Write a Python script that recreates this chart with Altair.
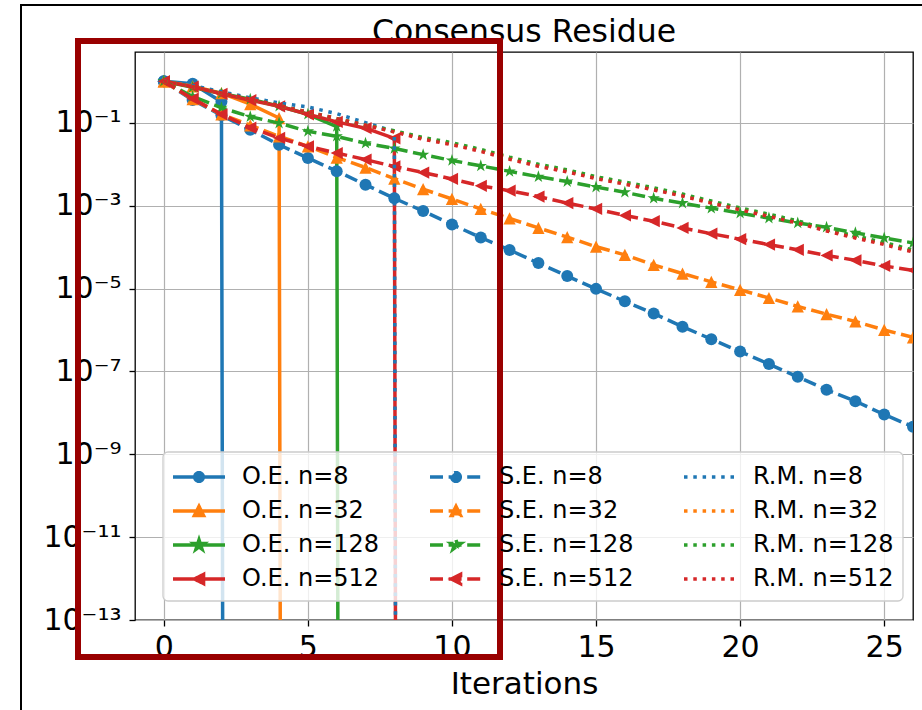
import math
import altair as alt
import pandas as pd

# ---------------- data ----------------
ITERATIONS = list(range(27))

# "0.0" = exact consensus reached (drawn as a drop off the log axis)
OE_8 = [1.0, 0.87, 0.32, 0.0]
OE_32 = [1.0, 0.76, 0.52, 0.28, 0.13, 0.0]
OE_128 = [1.0, 0.72, 0.51, 0.37, 0.25, 0.16, 0.081, 0.0]
OE_512 = [1.0, 0.74, 0.50, 0.35, 0.25, 0.16, 0.105, 0.074, 0.042, 0.0]

SE_8 = [1.0, 0.355, 0.151, 0.0676, 0.0295, 0.0141, 6.8e-3, 3.2e-3, 1.5e-3, 7.4e-4,
        3.5e-4, 1.7e-4, 8.5e-5, 4.1e-5, 2.0e-5, 9.8e-6, 4.9e-6, 2.5e-6, 1.2e-6, 6.0e-7,
        3.0e-7, 1.5e-7, 7.4e-8, 3.6e-8, 1.9e-8, 9.1e-9, 4.6e-9]
SE_32 = [1.0, 0.37, 0.16, 0.087, 0.047, 0.027, 0.0145, 8.3e-3, 4.5e-3, 2.5e-3,
         1.45e-3, 8.3e-4, 4.9e-4, 2.9e-4, 1.74e-4, 1.02e-4, 6.5e-5, 3.7e-5, 2.3e-5, 1.45e-5,
         9.3e-6, 5.9e-6, 3.7e-6, 2.4e-6, 1.6e-6, 1.0e-6, 6.6e-7]
SE_128 = [1.0, 0.43, 0.23, 0.14, 0.098, 0.062, 0.047, 0.032, 0.024, 0.017,
          0.0123, 9.1e-3, 6.7e-3, 5.0e-3, 3.8e-3, 2.8e-3, 2.1e-3, 1.5e-3, 1.15e-3, 8.7e-4,
          6.6e-4, 5.0e-4, 3.8e-4, 3.0e-4, 2.2e-4, 1.66e-4, 1.26e-4]
SE_512 = [1.0, 0.38, 0.16, 0.076, 0.043, 0.027, 0.0186, 0.0129, 8.8e-3, 6.3e-3,
          4.4e-3, 3.0e-3, 2.3e-3, 1.66e-3, 1.15e-3, 8.3e-4, 5.8e-4, 4.2e-4, 2.9e-4, 2.1e-4,
          1.55e-4, 1.15e-4, 8.6e-5, 6.3e-5, 4.8e-5, 3.5e-5, 2.75e-5]

RM_8 = [1.0, 0.79, 0.56, 0.40, 0.30, 0.24, 0.166, 0.10, 0.062, 0.0]
RM_32 = [1.0, 0.74, 0.52, 0.37, 0.26, 0.18, 0.126, 0.087, 0.062, 0.042,
         0.031, 0.0216, 0.014, 9.4e-3, 6.9e-3, 4.8e-3, 3.5e-3, 2.5e-3, 1.8e-3, 1.22e-3,
         8.4e-4, 5.8e-4, 4.0e-4, 2.6e-4, 1.76e-4, 1.22e-4, 8.1e-5]
RM_128 = [1.0, 0.74, 0.52, 0.37, 0.26, 0.18, 0.126, 0.087, 0.064, 0.044,
          0.033, 0.0228, 0.0148, 0.0100, 7.3e-3, 5.0e-3, 3.7e-3, 2.7e-3, 1.9e-3, 1.29e-3,
          8.8e-4, 6.2e-4, 4.3e-4, 2.7e-4, 1.86e-4, 1.29e-4, 8.5e-5]
RM_512 = [1.0, 0.74, 0.52, 0.37, 0.26, 0.18, 0.126, 0.087, 0.060, 0.040,
          0.0295, 0.0204, 0.0132, 8.9e-3, 6.5e-3, 4.5e-3, 3.3e-3, 2.4e-3, 1.7e-3, 1.15e-3,
          7.9e-4, 5.5e-4, 3.8e-4, 2.45e-4, 1.66e-4, 1.15e-4, 7.6e-5]

METHODS = ["O.E.", "S.E.", "R.M."]
SIZES = [8, 32, 128, 512]
VALUES = {
    ("O.E.", 8): OE_8, ("O.E.", 32): OE_32, ("O.E.", 128): OE_128, ("O.E.", 512): OE_512,
    ("S.E.", 8): SE_8, ("S.E.", 32): SE_32, ("S.E.", 128): SE_128, ("S.E.", 512): SE_512,
    ("R.M.", 8): RM_8, ("R.M.", 32): RM_32, ("R.M.", 128): RM_128, ("R.M.", 512): RM_512,
}
X_TICKS = [0, 5, 10, 15, 20, 25]
Y_TICK_EXP = [-13, -11, -9, -7, -5, -3, -1]
TITLE = "Consensus Residue"
X_TITLE = "Iterations"

# ---------------- styles ----------------
COLOR = {8: "#1f77b4", 32: "#ff7f0e", 128: "#2ca02c", 512: "#d62728"}
DASH = {"O.E.": None, "S.E.": [13, 5.6], "R.M.": [3.5, 5.8]}
FLOOR = 1e-300  # exact zeros are clipped like matplotlib's log axis does
FONT = "DejaVu Sans"

TRI_UP = "M0,-1L-1,1L1,1Z"
TRI_LEFT = "M-1,0L1,-1L1,1Z"


def star(cx=0.0, r=1.0, inner=0.381966):
    pts = []
    for k in range(10):
        rr = r if k % 2 == 0 else r * inner
        a = -math.pi / 2 + k * math.pi / 5
        pts.append((cx + rr * math.cos(a), rr * math.sin(a)))
    return "M" + "L".join(f"{x:.3f},{y:.3f}" for x, y in pts) + "Z"


MARKER = {8: ("circle", 144), 32: (TRI_UP, 150), 128: (star(), 170), 512: (TRI_LEFT, 150)}

rows = []
for (m, n), vals in VALUES.items():
    name = f"{m} n={n}"
    for i, v in zip(ITERATIONS, vals):
        rows.append({"series": name, "iter": i, "value": v if v > 0 else FLOOR})
df = pd.DataFrame(rows)

SUP = str.maketrans("-0123456789", "⁻⁰¹²³⁴⁵⁶⁷⁸⁹")
label_expr = "''"
for e in sorted(Y_TICK_EXP, reverse=True):
    label_expr = f"datum.value < {10 ** (e + 0.5):.3e} ? '10{str(e).translate(SUP)}' : ({label_expr})"

X = alt.X("iter:Q", scale=alt.Scale(domain=[-1, 26], nice=False, zero=False),
          axis=alt.Axis(values=X_TICKS, title=X_TITLE, labelPadding=6, titlePadding=7,
                        titleFontSize=31, format="d"))
Y = alt.Y("value:Q", scale=alt.Scale(type="log", domain=[1e-13, 5.1], nice=False),
          axis=alt.Axis(values=[10.0 ** e for e in Y_TICK_EXP], labelExpr=label_expr,
                        title=None, labelPadding=8))

one = alt.Data(values=[{}])
layers = [alt.Chart(one).mark_text(text=TITLE, font=FONT, fontSize=31.5, color="black",
                                   align="center", baseline="alphabetic").encode(
    x=alt.value(389), y=alt.value(-10))]

for m in METHODS:
    for n in SIZES:
        name = f"{m} n={n}"
        base = alt.Chart(df).transform_filter(alt.datum.series == name)
        kw = dict(color=COLOR[n], strokeWidth=3.5, clip=True, strokeJoin="round")
        if DASH[m]:
            kw["strokeDash"] = DASH[m]
        layers.append(base.mark_line(**kw).encode(x=X, y=Y))
        if m != "R.M.":
            shp, sz = MARKER[n]
            layers.append(base.mark_point(shape=shp, size=sz, filled=True, opacity=1,
                                          color=COLOR[n], clip=True).encode(x=X, y=Y))

# ---------- legend (native) with line+marker symbols ----------
U = 12.0  # px per symbol unit (symbolSize = (2U)^2)
L0, L1 = -1.0, -1.0 + 52 / U
CX = (L0 + L1) / 2


def circle_path(cx, r, k=24):
    pts = [(cx + r * math.cos(2 * math.pi * i / k), r * math.sin(2 * math.pi * i / k)) for i in range(k)]
    return "M" + "L".join(f"{x:.3f},{y:.3f}" for x, y in pts) + "Z"


def leg_marker(n):
    if n == 8:
        return circle_path(CX, 0.36)
    h = 0.38
    if n == 32:
        return f"M{CX:.3f},{-h}L{CX - h:.3f},{h}L{CX + h:.3f},{h}Z"
    if n == 128:
        return star(CX, 0.42)
    return f"M{CX - h:.3f},0L{CX + h:.3f},{-h}L{CX + h:.3f},{h}Z"


LEG_ORDER, LEG_COL, LEG_PATH, LEG_DASH = [], [], [], []
for m in METHODS:
    for n in SIZES:
        LEG_ORDER.append(f"{m} n={n}")
        LEG_COL.append(COLOR[n])
        p = f"M{L0},0L{L1:.3f},0"
        if m != "R.M.":
            p += leg_marker(n)
        LEG_PATH.append(p)
        LEG_DASH.append(DASH[m] if DASH[m] else [1, 0])

LEG = alt.Legend(orient="none", legendX=36, legendY=411, columns=3, title=None,
                 labelFontSize=24, labelFont=FONT, labelColor="black",
                 symbolSize=(2 * U) ** 2, symbolStrokeWidth=3.5, symbolOpacity=1,
                 labelOffset=43, columnPadding=43, rowPadding=8, labelLimit=0,
                 padding=0)
legend_layer = alt.Chart(df).transform_filter("false").mark_point(filled=True, opacity=1).encode(
    x=X, y=Y,
    fill=alt.Fill("series:N", scale=alt.Scale(domain=LEG_ORDER, range=LEG_COL), legend=LEG),
    stroke=alt.Stroke("series:N", scale=alt.Scale(domain=LEG_ORDER, range=LEG_COL), legend=LEG),
    shape=alt.Shape("series:N", scale=alt.Scale(domain=LEG_ORDER, range=LEG_PATH), legend=LEG),
    strokeDash=alt.StrokeDash("series:N", scale=alt.Scale(domain=LEG_ORDER, range=LEG_DASH), legend=LEG),
)
layers.append(legend_layer)

legend_box = alt.Chart(one).mark_rect(fill="white", fillOpacity=0.8, stroke="#cccccc",
                                      strokeWidth=1.3, cornerRadius=5).encode(
    x=alt.value(28), x2=alt.value(768), y=alt.value(400), y2=alt.value(549))
highlight = alt.Chart(one).mark_rect(filled=False, stroke="#990000", strokeWidth=6).encode(
    x=alt.value(-57), x2=alt.value(365), y=alt.value(-11), y2=alt.value(605))
frame_l = alt.Chart(one).mark_rule(color="black", strokeWidth=2).encode(
    x=alt.value(-114), y=alt.value(-47), y2=alt.value(700))
frame_t = alt.Chart(one).mark_rule(color="black", strokeWidth=2).encode(
    x=alt.value(-115), x2=alt.value(800), y=alt.value(-47))
layers += [legend_box, highlight, frame_l, frame_t]

chart = alt.layer(*layers).properties(
    width=778, height=568,
    padding={"left": 135, "top": 52, "right": 9, "bottom": 90},
    autosize=alt.AutoSizeParams(type="none"),
    background="white",
).configure_view(stroke="black", strokeWidth=1.3).configure_axis(
    domain=False, grid=True, gridColor="#b0b0b0", gridWidth=1.2,
    tickColor="black", tickSize=6, tickWidth=1.3,
    labelFont=FONT, labelFontSize=30, labelColor="black",
    titleFont=FONT, titleFontSize=30, titleFontWeight="normal", titleColor="black",
)

chart.save("out.html", embed_options={"renderer": "svg", "actions": False})
